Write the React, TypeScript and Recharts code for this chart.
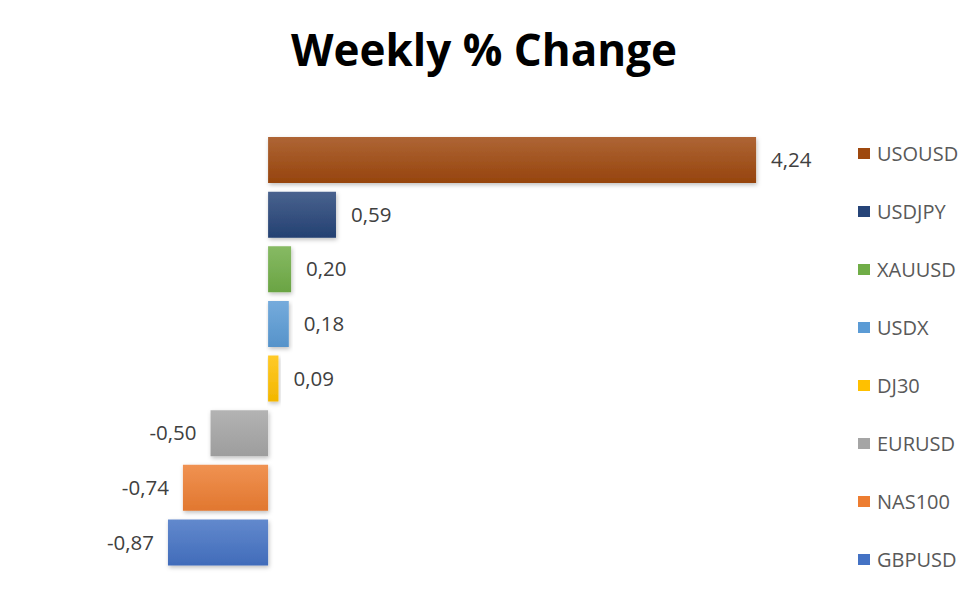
import React from "react";
import { BarChart, Bar, XAxis, YAxis, Cell, LabelList } from "recharts";

const categories = ["USOUSD", "USDJPY", "XAUUSD", "USDX", "DJ30", "EURUSD", "NAS100", "GBPUSD"];
const weeklyChange = [4.24, 0.59, 0.2, 0.18, 0.09, -0.5, -0.74, -0.87];
const barColors = ["#9E480E", "#264478", "#70AD47", "#5B9BD5", "#FFC000", "#A5A5A5", "#ED7D31", "#4472C4"];

const data = categories.map((name, i) => ({ name, value: weeklyChange[i] }));

function lighten(hex: string, amt: number) {
  const n = parseInt(hex.slice(1), 16);
  const r = (n >> 16) & 255, g = (n >> 8) & 255, b = n & 255;
  const f = (c: number) => Math.round(c + (255 - c) * amt);
  return `rgb(${f(r)},${f(g)},${f(b)})`;
}
function darken(hex: string, amt: number) {
  const n = parseInt(hex.slice(1), 16);
  const r = (n >> 16) & 255, g = (n >> 8) & 255, b = n & 255;
  const f = (c: number) => Math.round(c * (1 - amt));
  return `rgb(${f(r)},${f(g)},${f(b)})`;
}

const fmt = (v: number) => v.toFixed(2).replace(".", ",");

const ValueLabel = (props: any) => {
  const { x, y, width, height, value } = props;
  const left = Math.min(x, x + width);
  const right = Math.max(x, x + width);
  const cy = y + height / 2;
  const neg = value < 0;
  return (
    <text
      x={neg ? left - 14 : right + 15}
      y={cy}
      dy="0.35em"
      textAnchor={neg ? "end" : "start"}
      fontFamily="'Open Sans', sans-serif"
      fontSize={20.5}
      fill="#404040"
    >
      {fmt(value)}
    </text>
  );
};

export default function App() {
  return (
    <div style={{ position: "absolute", left: 0, top: 0, width: 975, height: 599, background: "#fff" }}>
      <div
        style={{
          position: "absolute",
          left: 0,
          width: 968,
          top: 19,
          textAlign: "center",
          fontFamily: "'Open Sans', sans-serif",
          fontWeight: 700,
          fontSize: 44,
          color: "#000",
          lineHeight: "60px",
        }}
      >
        Weekly % Change
      </div>
      <BarChart
        width={975}
        height={599}
        data={data}
        layout="vertical"
        margin={{ top: 133, bottom: 29, left: 153, right: 189 }}
      >
        <defs>
          {barColors.map((c, i) => (
            <linearGradient key={i} id={`grad${i}`} x1="0" y1="0" x2="0" y2="1">
              <stop offset="0%" stopColor={lighten(c, 0.16)} />
              <stop offset="100%" stopColor={darken(c, 0.05)} />
            </linearGradient>
          ))}
          <filter id="shadow" x="-10%" y="-20%" width="130%" height="150%">
            <feDropShadow dx="1" dy="2" stdDeviation="2" floodColor="#000" floodOpacity="0.25" />
          </filter>
        </defs>
        <XAxis type="number" domain={[-1, 4.5]} hide allowDataOverflow />
        <YAxis type="category" dataKey="name" hide />
        <Bar dataKey="value" barSize={46} isAnimationActive={false} filter="url(#shadow)">
          {data.map((d, i) => (
            <Cell key={d.name} fill={`url(#grad${i})`} />
          ))}
          <LabelList dataKey="value" content={ValueLabel} />
        </Bar>
      </BarChart>
      <div style={{ position: "absolute", left: 858, top: 0 }}>
        {categories.map((name, i) => (
          <div
            key={name}
            style={{
              position: "absolute",
              left: 0,
              top: 153 + i * 58 - 14,
              height: 28,
              display: "flex",
              alignItems: "center",
              whiteSpace: "nowrap",
              fontFamily: "'Open Sans', sans-serif",
              fontSize: 20,
              color: "#595959",
            }}
          >
            <span style={{ display: "inline-block", width: 12, height: 11, background: barColors[i], marginRight: 7 }} />
            {name}
          </div>
        ))}
      </div>
    </div>
  );
}
